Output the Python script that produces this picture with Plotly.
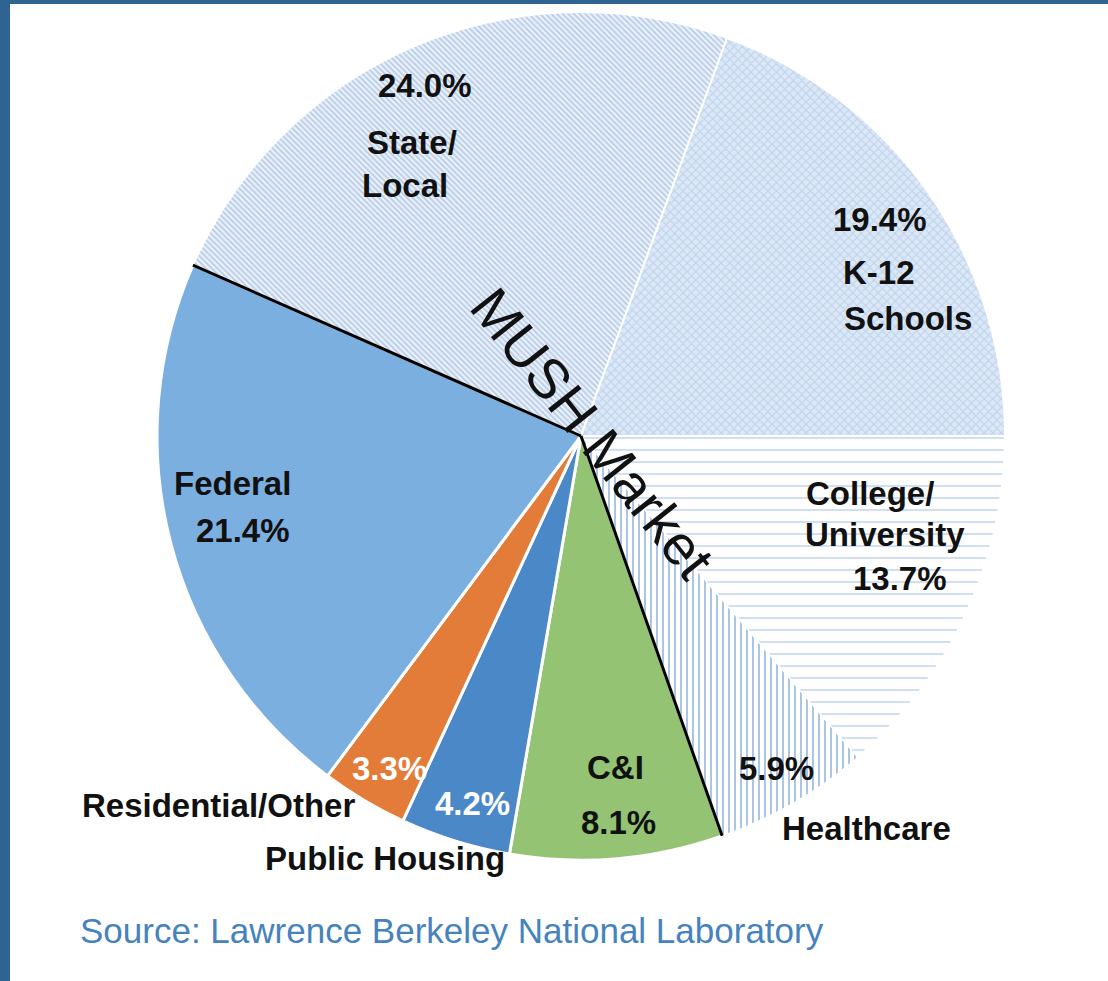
import math
import plotly.graph_objects as go

# Market shares by customer segment (percent), clockwise from State/Local
sectors = ["State/Local", "K-12 Schools", "College/University", "Healthcare",
           "C&I", "Public Housing", "Residential/Other", "Federal"]
shares = [24.0, 19.4, 13.7, 5.9, 8.1, 4.2, 3.3, 21.4]

# Slice styling: the four MUSH segments are hatched, the rest solid
base_colors = ["#eef3fa", "#dce8f6", "#ffffff", "#ffffff",
               "#93c373", "#4a88c8", "#e47c39", "#7bafe0"]
hatch_shapes = ["\\", "x", "-", "|", "", "", "", ""]
hatch_fg = ["#86aad8", "#9ebde3", "#9dbce2", "#4f86cc",
            "#000000", "#000000", "#000000", "#000000"]
hatch_size = [4, 6, 12, 6, 8, 8, 8, 8]
hatch_solidity = [0.5, 0.35, 0.16, 0.32, 0.3, 0.3, 0.3, 0.3]
edge_widths = [2, 2, 2, 1, 3, 3, 3, 3]

# Label text lines and the text colour per segment
label_lines = [
    ["24.0%", "State/", "Local"],
    ["19.4%", "K-12", "Schools"],
    ["College/", "University", "13.7%"],
    ["5.9%"],
    ["C&I", "8.1%"],
    ["4.2%"],
    ["3.3%"],
    ["Federal", "21.4%"],
]
outside_labels = ["Healthcare", "Public Housing", "Residential/Other"]

W, H = 1108, 981
CX, CY, R = 581.0, 436.0, 424.0   # pie centre and radius in pixels

def px(x):
    return x / W

def py(y):
    return 1 - y / H

total = sum(shares)
deg_per_unit = 360.0 / total
# College/University begins at 3 o'clock; the first slice starts before it
rotation = 90 - (shares[0] + shares[1]) * deg_per_unit

fig = go.Figure()
fig.add_trace(go.Pie(
    labels=sectors,
    values=shares,
    sort=False,
    direction="clockwise",
    rotation=rotation,
    textinfo="none",
    hoverinfo="label+percent",
    showlegend=False,
    domain=dict(x=[px(CX - R), px(CX + R)], y=[py(CY + R), py(CY - R)]),
    marker=dict(
        colors=base_colors,
        line=dict(color="#ffffff", width=edge_widths),
        pattern=dict(shape=hatch_shapes, fgcolor=hatch_fg, size=hatch_size,
                     solidity=hatch_solidity, fillmode="overlay"),
    ),
))

# Black dividers marking the edges of the MUSH group
cum = [0.0]
for v in shares:
    cum.append(cum[-1] + v)
divider_idx = [0, 4]   # start of State/Local and start of C&I
shapes = []
for i in divider_idx:
    ang = math.radians(rotation + cum[i] * deg_per_unit)
    ex = CX + R * math.sin(ang)
    ey = CY - R * math.cos(ang)
    shapes.append(dict(type="line", xref="paper", yref="paper",
                       x0=px(CX), y0=py(CY), x1=px(ex), y1=py(ey),
                       line=dict(color="#000000", width=3)))

# Frame strips along the top and left edges
frame = "#2f6391"
shapes.append(dict(type="rect", xref="paper", yref="paper", x0=0, x1=px(10),
                   y0=0, y1=1, fillcolor=frame, line=dict(width=0), layer="above"))
shapes.append(dict(type="rect", xref="paper", yref="paper", x0=0, x1=1,
                   y0=py(4), y1=1, fillcolor=frame, line=dict(width=0), layer="above"))

# Label placement (pixel centres of each text line)
label_pos = [
    [(425, 85), (412, 142), (405, 185)],
    [(880, 220), (879, 272), (908, 318)],
    [(870, 493), (885, 534), (900, 578)],
    [(776, 768)],
    [(615, 767), (618, 822)],
    [(472, 803)],
    [(389, 768)],
    [(232, 483), (243, 530)],
]
label_color = ["#111111"] * 5 + ["#ffffff", "#ffffff", "#111111"]
outside_pos = [(866, 828), (385, 858), (218, 805)]

font_family = "Liberation Sans, Arial, sans-serif"
annotations = []
for lines, poss, col in zip(label_lines, label_pos, label_color):
    for t, (x, y) in zip(lines, poss):
        annotations.append(dict(text=f"<b>{t}</b>", x=px(x), y=py(y),
                                xref="paper", yref="paper", showarrow=False,
                                xanchor="center", yanchor="middle",
                                font=dict(family=font_family, size=33, color=col)))
for t, (x, y) in zip(outside_labels, outside_pos):
    annotations.append(dict(text=f"<b>{t}</b>", x=px(x), y=py(y),
                            xref="paper", yref="paper", showarrow=False,
                            xanchor="center", yanchor="middle",
                            font=dict(family=font_family, size=33, color="#111111")))

# Group title running across the MUSH slices
annotations.append(dict(text="MUSH Market", x=px(593), y=py(433),
                        xref="paper", yref="paper", showarrow=False,
                        textangle=51.5, xanchor="center", yanchor="middle",
                        font=dict(family=font_family, size=56, color="#111111")))

# Source note
annotations.append(dict(text="Source: Lawrence Berkeley National Laboratory",
                        x=px(78), y=py(930), xref="paper", yref="paper",
                        showarrow=False, xanchor="left", yanchor="middle",
                        font=dict(family=font_family, size=35, color="#4683be")))

fig.update_layout(
    width=W, height=H,
    margin=dict(l=0, r=0, t=0, b=0),
    paper_bgcolor="#ffffff",
    plot_bgcolor="#ffffff",
    shapes=shapes,
    annotations=annotations,
)

fig.write_html("out.html")
